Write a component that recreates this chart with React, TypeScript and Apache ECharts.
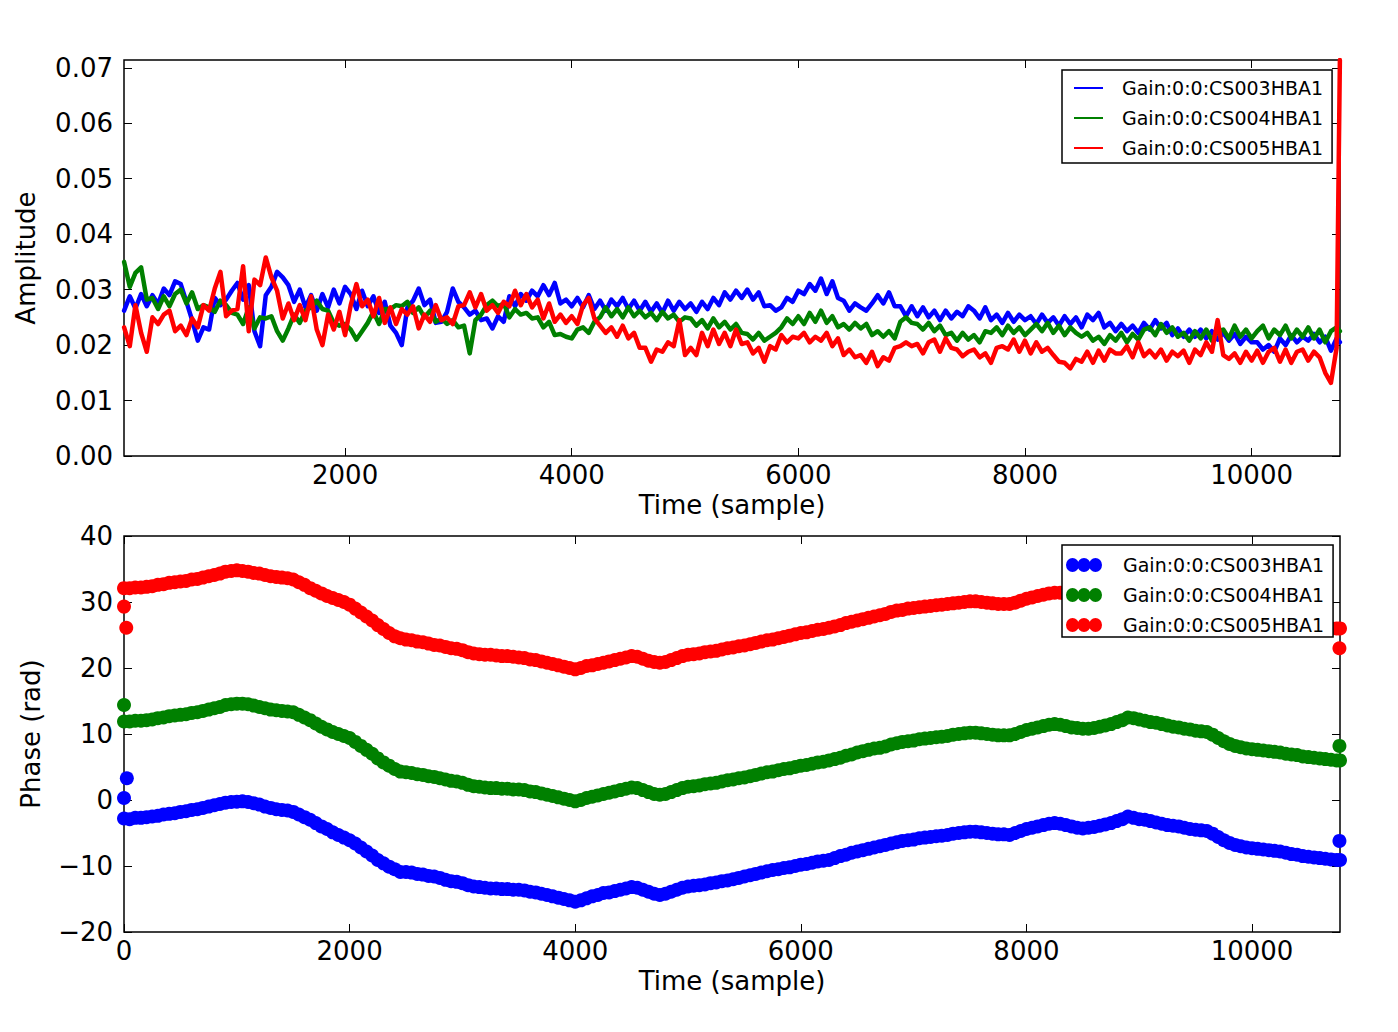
import React, { useEffect, useRef } from "react";
import * as echarts from "echarts";

// ---------- names / colours ----------
const seriesNames = ["Gain:0:0:CS003HBA1", "Gain:0:0:CS004HBA1", "Gain:0:0:CS005HBA1"];
const seriesColors = ["#0000ff", "#008000", "#ff0000"];

// ---------- tick values / ranges ----------
const ampXTicks = [2000, 4000, 6000, 8000, 10000];
const ampYTicks = [0, 0.01, 0.02, 0.03, 0.04, 0.05, 0.06, 0.07];
const phaseXTicks = [0, 2000, 4000, 6000, 8000, 10000];
const ampXMin = 49;
const ampXMax = 10780;
const ampYMax = 0.0714;
const phaseXMax = 10780;

// ---------- amplitude (top panel), one value every 50 samples from sample 50 ----------
const ampStart = 50;
const ampStep = 50;
const ampBlue = [
  .0262, .0288, .0266, .0292, .0270, .0290, .0274, .0302, .0290, .0315,
  .0310, .0278, .0245, .0208, .0232, .0228, .0285, .0272, .0282, .0298,
  .0312, .0282, .0308, .0225, .0198, .0290, .0305, .0332, .0322, .0308,
  .0278, .0300, .0268, .0290, .0262, .0292, .0268, .0300, .0275, .0305,
  .0292, .0265, .0298, .0270, .0288, .0258, .0278, .0235, .0222, .0200,
  .0268, .0280, .0302, .0272, .0282, .0240, .0242, .0260, .0302, .0278,
  .0268, .0255, .0262, .0245, .0248, .0230, .0252, .0242, .0288, .0270,
  .0292, .0280, .0298, .0288, .0308, .0290, .0312, .0275, .0282, .0270,
  .0285, .0268, .0290, .0265, .0280, .0262, .0282, .0270, .0285, .0265,
  .0280, .0262, .0278, .0260, .0275, .0258, .0280, .0262, .0278, .0265,
  .0275, .0260, .0278, .0265, .0285, .0272, .0295, .0282, .0298, .0285,
  .0300, .0282, .0295, .0270, .0272, .0262, .0268, .0285, .0278, .0298,
  .0292, .0310, .0298, .0320, .0292, .0315, .0285, .0280, .0262, .0275,
  .0268, .0262, .0275, .0290, .0275, .0295, .0270, .0270, .0252, .0270,
  .0252, .0268, .0250, .0262, .0245, .0262, .0248, .0260, .0252, .0270,
  .0262, .0248, .0268, .0245, .0255, .0240, .0258, .0242, .0255, .0245,
  .0252, .0238, .0255, .0240, .0250, .0235, .0252, .0238, .0250, .0232,
  .0255, .0245, .0258, .0232, .0240, .0225, .0238, .0225, .0235, .0222,
  .0240, .0228, .0245, .0230, .0240, .0218, .0230, .0215, .0228, .0215,
  .0228, .0212, .0225, .0210, .0222, .0208, .0220, .0202, .0215, .0205,
  .0205, .0192, .0200, .0188, .0212, .0200, .0218, .0205, .0215, .0208,
  .0220, .0205, .0215, .0190, .0212,
];
const ampGreen = [
  .0350, .0305, .0330, .0340, .0282, .0285, .0265, .0288, .0270, .0292,
  .0300, .0275, .0295, .0265, .0272, .0268, .0260, .0280, .0272, .0258,
  .0255, .0238, .0268, .0230, .0250, .0248, .0252, .0225, .0208, .0230,
  .0255, .0240, .0262, .0268, .0280, .0265, .0262, .0240, .0235, .0238,
  .0228, .0210, .0225, .0240, .0260, .0238, .0265, .0265, .0272, .0270,
  .0278, .0258, .0268, .0250, .0262, .0242, .0248, .0238, .0245, .0232,
  .0235, .0185, .0245, .0255, .0272, .0280, .0270, .0275, .0250, .0265,
  .0255, .0258, .0248, .0250, .0232, .0242, .0218, .0220, .0215, .0212,
  .0228, .0232, .0222, .0242, .0250, .0268, .0252, .0265, .0250, .0268,
  .0252, .0262, .0250, .0258, .0245, .0260, .0248, .0255, .0242, .0250,
  .0248, .0235, .0245, .0230, .0248, .0232, .0242, .0228, .0238, .0222,
  .0220, .0210, .0222, .0208, .0215, .0222, .0232, .0248, .0238, .0252,
  .0238, .0258, .0242, .0262, .0240, .0252, .0232, .0238, .0228, .0240,
  .0230, .0238, .0218, .0225, .0215, .0225, .0212, .0242, .0250, .0240,
  .0238, .0228, .0240, .0225, .0235, .0218, .0222, .0208, .0222, .0210,
  .0218, .0205, .0225, .0222, .0232, .0218, .0235, .0222, .0232, .0218,
  .0228, .0238, .0225, .0240, .0222, .0235, .0218, .0232, .0222, .0215,
  .0222, .0208, .0215, .0202, .0218, .0208, .0222, .0205, .0220, .0210,
  .0228, .0232, .0218, .0238, .0222, .0232, .0215, .0222, .0208, .0225,
  .0212, .0228, .0208, .0225, .0228, .0212, .0235, .0215, .0228, .0212,
  .0225, .0235, .0212, .0228, .0218, .0235, .0212, .0228, .0215, .0232,
  .0212, .0228, .0205, .0225, .0232,
];
const ampRed = [
  .0232, .0198, .0272, .0222, .0188, .0250, .0238, .0255, .0262, .0225,
  .0235, .0218, .0248, .0232, .0272, .0262, .0302, .0332, .0252, .0262,
  .0265, .0342, .0225, .0318, .0308, .0358, .0322, .0298, .0248, .0275,
  .0245, .0272, .0245, .0288, .0228, .0200, .0255, .0228, .0260, .0218,
  .0272, .0310, .0270, .0282, .0252, .0285, .0240, .0268, .0238, .0265,
  .0255, .0270, .0230, .0255, .0242, .0272, .0245, .0250, .0238, .0270,
  .0272, .0295, .0268, .0292, .0262, .0272, .0258, .0278, .0270, .0298,
  .0272, .0292, .0268, .0282, .0248, .0275, .0242, .0255, .0240, .0252,
  .0238, .0272, .0285, .0248, .0235, .0222, .0232, .0215, .0235, .0212,
  .0222, .0195, .0195, .0170, .0192, .0188, .0205, .0198, .0245, .0182,
  .0195, .0182, .0222, .0198, .0228, .0202, .0222, .0198, .0228, .0202,
  .0205, .0185, .0195, .0170, .0198, .0192, .0218, .0205, .0215, .0212,
  .0222, .0205, .0215, .0208, .0222, .0198, .0212, .0182, .0192, .0178,
  .0182, .0168, .0188, .0162, .0178, .0172, .0195, .0198, .0205, .0198,
  .0202, .0185, .0205, .0210, .0188, .0212, .0195, .0192, .0180, .0188,
  .0192, .0178, .0185, .0168, .0195, .0198, .0192, .0210, .0188, .0208,
  .0185, .0205, .0188, .0195, .0182, .0170, .0168, .0158, .0175, .0170,
  .0188, .0168, .0190, .0172, .0192, .0185, .0185, .0198, .0178, .0205,
  .0180, .0190, .0178, .0192, .0172, .0188, .0180, .0190, .0168, .0192,
  .0182, .0205, .0188, .0245, .0182, .0175, .0185, .0168, .0188, .0172,
  .0190, .0168, .0188, .0195, .0170, .0192, .0168, .0188, .0192, .0172,
  .0188, .0178, .0150, .0132, .0195,
];
const ampEndSample = 10779;
const ampEndValues = [0.0205, 0.0225, 0.0714];

// ---------- phase (bottom panel), one value every 50 samples from sample 0 ----------
const phaseStep = 50;
const phaseBlue = [
  -2.8, -2.9, -2.7, -2.7, -2.6, -2.5, -2.4, -2.2, -2.1, -2.0,
  -1.8, -1.7, -1.5, -1.4, -1.2, -1.0, -0.8, -0.6, -0.4, -0.3,
  -0.25, -0.2, -0.3, -0.5, -0.7, -1.0, -1.2, -1.4, -1.5, -1.6,
  -1.8, -2.2, -2.6, -3.0, -3.5, -4.0, -4.4, -4.9, -5.3, -5.7,
  -6.1, -6.6, -7.2, -7.8, -8.4, -9.1, -9.6, -10.1, -10.5, -10.9,
  -10.9, -11.0, -11.2, -11.3, -11.5, -11.6, -11.8, -12.1, -12.3, -12.4,
  -12.6, -12.9, -13.1, -13.2, -13.3, -13.4, -13.4, -13.5, -13.5, -13.6,
  -13.6, -13.7, -13.9, -14.0, -14.2, -14.4, -14.6, -14.8, -15.0, -15.2,
  -15.4, -15.2, -14.9, -14.6, -14.4, -14.1, -14.0, -13.8, -13.6, -13.4,
  -13.2, -13.3, -13.6, -13.9, -14.2, -14.4, -14.2, -13.9, -13.6, -13.3,
  -13.1, -13.0, -12.9, -12.8, -12.6, -12.5, -12.3, -12.2, -12.0, -11.8,
  -11.6, -11.4, -11.2, -11.0, -10.8, -10.6, -10.5, -10.3, -10.2, -10.0,
  -9.8, -9.7, -9.5, -9.3, -9.2, -9.1, -8.8, -8.5, -8.3, -8.0,
  -7.8, -7.6, -7.4, -7.2, -7.0, -6.8, -6.6, -6.4, -6.2, -6.1,
  -6.0, -5.8, -5.7, -5.6, -5.5, -5.4, -5.3, -5.1, -5.0, -4.9,
  -4.8, -4.8, -4.9, -5.0, -5.1, -5.2, -5.2, -5.3, -5.0, -4.7,
  -4.4, -4.2, -4.0, -3.8, -3.6, -3.5, -3.6, -3.8, -4.0, -4.2,
  -4.3, -4.2, -4.1, -3.9, -3.7, -3.5, -3.2, -2.9, -2.5, -2.7,
  -2.9, -3.0, -3.2, -3.4, -3.6, -3.8, -3.9, -4.0, -4.2, -4.4,
  -4.5, -4.6, -4.7, -5.1, -5.6, -6.1, -6.5, -6.8, -7.0, -7.2,
  -7.3, -7.4, -7.5, -7.6, -7.7, -7.8, -8.0, -8.2, -8.3, -8.5,
  -8.6, -8.7, -8.8, -8.9, -9.0, -9.1,
];
const phaseGreen = [
  11.9, 11.9, 12.0, 12.0, 12.1, 12.2, 12.4, 12.5, 12.7, 12.8,
  12.9, 13.0, 13.2, 13.3, 13.5, 13.7, 13.9, 14.1, 14.4, 14.5,
  14.6, 14.6, 14.5, 14.3, 14.1, 13.9, 13.7, 13.6, 13.5, 13.4,
  13.3, 12.9, 12.5, 12.1, 11.6, 11.1, 10.7, 10.3, 10.0, 9.7,
  9.4, 8.8, 8.2, 7.6, 7.0, 6.3, 5.7, 5.2, 4.7, 4.3,
  4.2, 4.1, 3.9, 3.8, 3.6, 3.5, 3.3, 3.1, 2.9, 2.8,
  2.6, 2.3, 2.1, 2.0, 1.9, 1.8, 1.8, 1.7, 1.7, 1.6,
  1.6, 1.5, 1.3, 1.2, 1.0, 0.8, 0.6, 0.4, 0.2, 0.0,
  -0.2, 0.0, 0.3, 0.5, 0.7, 0.9, 1.1, 1.3, 1.5, 1.7,
  1.9, 1.8, 1.5, 1.2, 0.9, 0.8, 0.9, 1.2, 1.5, 1.8,
  2.0, 2.1, 2.2, 2.4, 2.5, 2.6, 2.8, 3.0, 3.1, 3.3,
  3.4, 3.6, 3.8, 4.0, 4.2, 4.3, 4.5, 4.7, 4.8, 5.0,
  5.2, 5.3, 5.5, 5.7, 5.8, 6.0, 6.2, 6.4, 6.7, 6.9,
  7.2, 7.4, 7.6, 7.8, 7.9, 8.1, 8.4, 8.6, 8.8, 8.9,
  9.0, 9.2, 9.3, 9.4, 9.5, 9.6, 9.7, 9.9, 10.0, 10.1,
  10.2, 10.2, 10.1, 10.0, 9.9, 9.8, 9.8, 9.8, 10.0, 10.3,
  10.6, 10.8, 11.0, 11.2, 11.4, 11.5, 11.4, 11.2, 11.0, 10.9,
  10.8, 10.8, 10.9, 11.1, 11.3, 11.5, 11.8, 12.1, 12.5, 12.4,
  12.2, 12.0, 11.8, 11.7, 11.5, 11.3, 11.1, 11.0, 10.8, 10.7,
  10.5, 10.4, 10.3, 9.9, 9.4, 8.9, 8.5, 8.2, 8.0, 7.8,
  7.7, 7.6, 7.5, 7.4, 7.3, 7.2, 7.0, 6.9, 6.8, 6.6,
  6.5, 6.4, 6.3, 6.2, 6.1, 6.0,
];
const phaseRed = [
  32.1, 32.1, 32.2, 32.2, 32.3, 32.4, 32.6, 32.7, 32.9, 33.0,
  33.1, 33.2, 33.4, 33.5, 33.7, 33.9, 34.1, 34.3, 34.6, 34.7,
  34.8, 34.7, 34.6, 34.4, 34.3, 34.1, 33.9, 33.8, 33.7, 33.6,
  33.4, 33.0, 32.6, 32.1, 31.7, 31.3, 30.9, 30.6, 30.3, 30.0,
  29.6, 29.0, 28.4, 27.8, 27.2, 26.5, 25.9, 25.3, 24.8, 24.5,
  24.3, 24.2, 24.0, 23.9, 23.7, 23.5, 23.4, 23.2, 23.0, 22.9,
  22.7, 22.4, 22.2, 22.1, 22.0, 22.0, 21.9, 21.8, 21.8, 21.7,
  21.6, 21.5, 21.3, 21.2, 21.0, 20.8, 20.6, 20.4, 20.2, 20.0,
  19.8, 20.0, 20.3, 20.4, 20.6, 20.8, 21.0, 21.2, 21.4, 21.6,
  21.8, 21.7, 21.4, 21.1, 20.9, 20.8, 20.9, 21.2, 21.5, 21.8,
  22.0, 22.1, 22.2, 22.4, 22.5, 22.6, 22.8, 23.0, 23.1, 23.3,
  23.4, 23.6, 23.8, 24.0, 24.2, 24.3, 24.5, 24.7, 24.9, 25.1,
  25.3, 25.4, 25.6, 25.8, 25.9, 26.1, 26.3, 26.5, 26.8, 27.0,
  27.2, 27.4, 27.6, 27.8, 28.0, 28.2, 28.5, 28.7, 28.8, 29.0,
  29.1, 29.2, 29.3, 29.4, 29.5, 29.6, 29.7, 29.8, 29.9, 30.0,
  30.1, 30.1, 30.0, 29.9, 29.8, 29.7, 29.7, 29.7, 29.9, 30.2,
  30.5, 30.7, 30.9, 31.1, 31.3, 31.4, 31.4, 31.2, 31.0, 30.9,
  30.8, 30.8, 30.9, 31.1, 31.3, 31.5, 31.8, 32.1, 32.5, 32.4,
  32.2, 32.0, 31.8, 31.7, 31.5, 31.3, 31.1, 31.0, 30.8, 30.7,
  30.5, 30.4, 30.3, 29.9, 29.4, 28.9, 28.5, 28.2, 28.0, 27.8,
  27.7, 27.6, 27.4, 27.3, 27.2, 27.1, 26.9, 26.8, 26.7, 26.5,
  26.4, 26.3, 26.2, 26.1, 26.0, 26.0,
];
// stray samples at both ends: [sample, phase]
const blueExtra = [[0, 0.3], [25, 3.3], [10780, -9.1], [10775, -6.2]];
const greenExtra = [[0, 14.4], [10780, 6.0], [10775, 8.2]];
const redExtra = [[0, 29.3], [20, 26.1], [10780, 26.0], [10775, 23.0]];

const FONT = "DejaVu Sans";
const dotsIcon =
  "path://M0,7a6.5,7 0 1,0 13,0a6.5,7 0 1,0 -13,0Z M11.5,7a6.5,7 0 1,0 13,0a6.5,7 0 1,0 -13,0Z M23,7a6.5,7 0 1,0 13,0a6.5,7 0 1,0 -13,0Z";

function App() {
  const ref = useRef<HTMLDivElement>(null);
  useEffect(() => {
    if (!ref.current) return;
    const chart = echarts.init(ref.current, null, { renderer: "svg" });

    const ampSets = [ampBlue, ampGreen, ampRed];
    const phaseSets = [phaseBlue, phaseGreen, phaseRed];
    const extras = [blueExtra, greenExtra, redExtra];

    const tickStyle = { inside: true, length: 8, lineStyle: { color: "#000", width: 1 } };
    const labelStyle = { fontFamily: FONT, fontSize: 26, color: "#000" };
    const nameStyle = { fontFamily: FONT, fontSize: 26, color: "#000" };
    const hiddenLine = { show: false, onZero: false };

    const lineSeries = ampSets.map((vals, k) => ({
      type: "line",
      name: seriesNames[k],
      xAxisIndex: 0,
      yAxisIndex: 0,
      showSymbol: false,
      symbol: "none",
      data: vals
        .map((v, i) => [ampStart + i * ampStep, v])
        .concat([[ampEndSample, ampEndValues[k]]]),
      lineStyle: { color: seriesColors[k], width: 4.5, join: "round", cap: "round" },
      itemStyle: { color: seriesColors[k] },
      clip: true,
      z: 2,
    }));

    const scatterSeries = phaseSets.map((vals, k) => ({
      type: "scatter",
      name: seriesNames[k],
      xAxisIndex: 2,
      yAxisIndex: 2,
      symbol: "circle",
      symbolSize: 14,
      data: vals.map((v, i) => [i * phaseStep, v]).concat(extras[k]),
      itemStyle: { color: seriesColors[k], opacity: 1 },
      clip: true,
      z: 2,
    }));

    chart.setOption({
      animation: false,
      backgroundColor: "#ffffff",
      grid: [
        { left: 124, top: 60, width: 1216, height: 396, show: true, borderColor: "#000", borderWidth: 1.5, backgroundColor: "#fff" },
        { left: 124, top: 536, width: 1216, height: 396, show: true, borderColor: "#000", borderWidth: 1.5, backgroundColor: "#fff" },
      ],
      xAxis: [
        {
          gridIndex: 0, type: "value", position: "bottom", min: ampXMin, max: ampXMax,
          axisLine: hiddenLine,
          axisTick: { ...tickStyle, customValues: ampXTicks },
          axisLabel: { ...labelStyle, margin: 6, customValues: ampXTicks, formatter: (v: number) => String(v) },
          splitLine: { show: false },
          name: "Time (sample)", nameLocation: "middle", nameGap: 36, nameTextStyle: nameStyle,
        },
        {
          gridIndex: 0, type: "value", position: "top", min: ampXMin, max: ampXMax,
          axisLine: hiddenLine,
          axisTick: { ...tickStyle, customValues: ampXTicks },
          axisLabel: { show: false },
          splitLine: { show: false },
        },
        {
          gridIndex: 1, type: "value", position: "bottom", min: 0, max: phaseXMax,
          axisLine: hiddenLine,
          axisTick: { ...tickStyle, customValues: phaseXTicks },
          axisLabel: { ...labelStyle, margin: 6, customValues: phaseXTicks, formatter: (v: number) => String(v) },
          splitLine: { show: false },
          name: "Time (sample)", nameLocation: "middle", nameGap: 36, nameTextStyle: nameStyle,
        },
        {
          gridIndex: 1, type: "value", position: "top", min: 0, max: phaseXMax,
          axisLine: hiddenLine,
          axisTick: { ...tickStyle, customValues: phaseXTicks },
          axisLabel: { show: false },
          splitLine: { show: false },
        },
      ],
      yAxis: [
        {
          gridIndex: 0, type: "value", position: "left", min: 0, max: ampYMax,
          axisLine: hiddenLine,
          axisTick: { ...tickStyle, customValues: ampYTicks },
          axisLabel: { ...labelStyle, margin: 11, customValues: ampYTicks, formatter: (v: number) => v.toFixed(2) },
          splitLine: { show: false },
          name: "Amplitude", nameLocation: "middle", nameGap: 85, nameTextStyle: nameStyle,
        },
        {
          gridIndex: 0, type: "value", position: "right", min: 0, max: ampYMax,
          axisLine: hiddenLine,
          axisTick: { ...tickStyle, customValues: ampYTicks },
          axisLabel: { show: false },
          splitLine: { show: false },
        },
        {
          gridIndex: 1, type: "value", position: "left", min: -20, max: 40, interval: 10,
          axisLine: hiddenLine,
          axisTick: tickStyle,
          axisLabel: { ...labelStyle, margin: 11, formatter: (v: number) => (v < 0 ? "\u2212" + Math.abs(v) : String(v)) },
          splitLine: { show: false },
          name: "Phase (rad)", nameLocation: "middle", nameGap: 80, nameTextStyle: nameStyle,
        },
        {
          gridIndex: 1, type: "value", position: "right", min: -20, max: 40, interval: 10,
          axisLine: hiddenLine,
          axisTick: tickStyle,
          axisLabel: { show: false },
          splitLine: { show: false },
        },
      ],
      legend: [
        {
          orient: "vertical", left: 1062, top: 70,
          padding: [8, 9, 5, 12], itemGap: 10, itemWidth: 29, itemHeight: 2,
          backgroundColor: "#fff", borderColor: "#000", borderWidth: 1.5, borderRadius: 0,
          selectedMode: false,
          textStyle: { fontFamily: FONT, fontSize: 19, lineHeight: 20, color: "#000", padding: [0, 0, 0, 14] },
          data: seriesNames.map((n) => ({ name: n, icon: "rect" })),
          z: 10,
        },
        {
          orient: "vertical", left: 1062, top: 545,
          padding: [10, 9, 2, 4], itemGap: 10, itemWidth: 36, itemHeight: 14,
          backgroundColor: "#fff", borderColor: "#000", borderWidth: 1.5, borderRadius: 0,
          selectedMode: false,
          textStyle: { fontFamily: FONT, fontSize: 19, lineHeight: 20, color: "#000", padding: [0, 0, 0, 16] },
          data: seriesNames.map((n) => ({ name: n, icon: dotsIcon })),
          z: 10,
        },
      ],
      series: [...lineSeries, ...scatterSeries],
    });
    return () => chart.dispose();
  }, []);

  return (
    <div style={{ position: "fixed", left: 0, top: 0, width: 1398, height: 1032, background: "#fff" }}>
      <div ref={ref} style={{ position: "absolute", left: 0, top: 0, width: 1398, height: 1032 }} />
    </div>
  );
}

export default App;
